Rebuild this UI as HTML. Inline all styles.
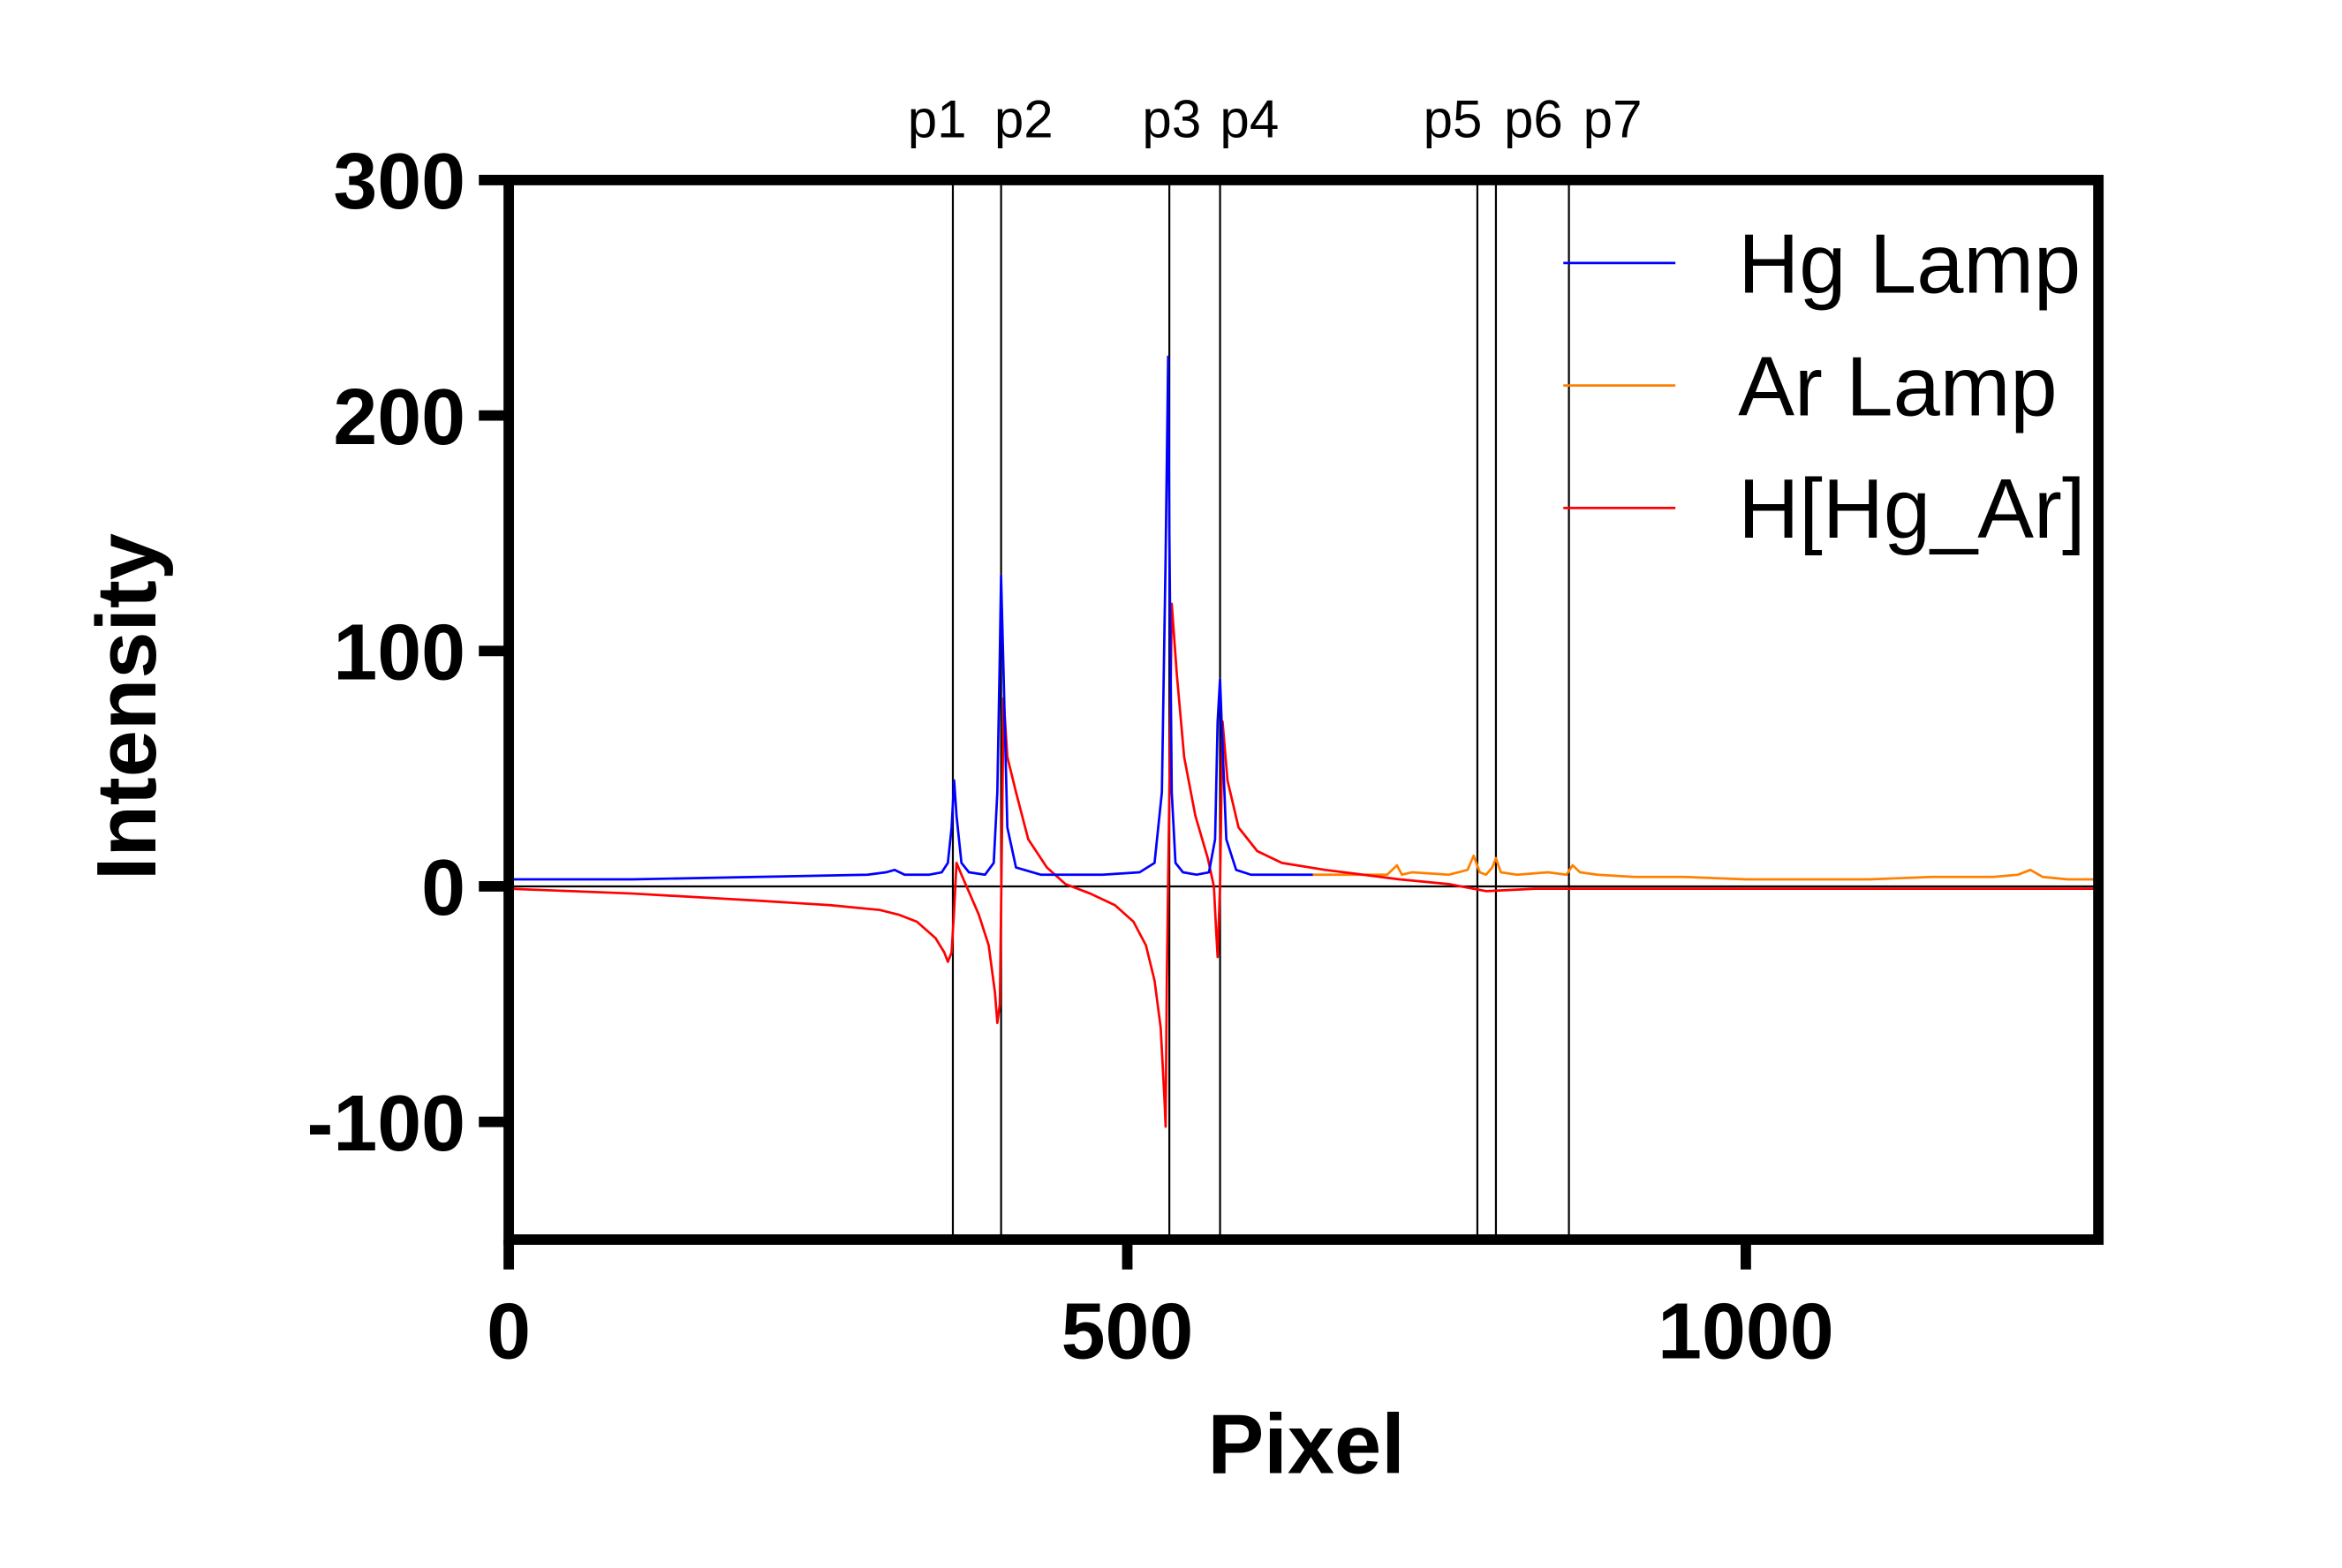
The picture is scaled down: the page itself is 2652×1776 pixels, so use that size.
<!DOCTYPE html>
<html><head><meta charset="utf-8"><style>
html,body{margin:0;padding:0;background:#fff}
svg{display:block}
text{font-family:"Liberation Sans",Arial,sans-serif}
</style></head><body>
<svg id="chart" width="2652" height="1776" viewBox="0 0 1567 1049.4" preserveAspectRatio="none" xmlns="http://www.w3.org/2000/svg">
<g id="marks"></g>
</svg>
<script>
const xTicks=[0,500,1000];
const yTicks=[300,200,100,0,-100];
const peakNames=["p1","p2","p3","p4","p5","p6","p7"];
const peakPixels=[359,398,534,575,783,798,857];
const hgX=[0,100,200,290,305,312,320,340,350,355,358,360,362,366,372,385,392,395,397,398,400,403,410,430,480,510,522,528,531,533,534,536,539,545,556,566,571,573,575,577,580,588,600,650];
const hgY=[3,3,4,5,6,7,5,5,6,10,25,45,30,10,6,5,10,40,100,132,90,25,8,5,5,6,10,40,140,225,150,40,10,6,5,6,20,70,88,60,20,7,5,5];
const arX=[650,680,710,718,722,730,760,775,780,785,790,795,798,802,815,840,855,860,866,880,910,950,1000,1050,1100,1150,1200,1220,1230,1240,1260,1285];
const arY=[5,5,5,9,5,6,5,7,13,6,5,8,12,6,5,6,5,9,6,5,4,4,3,3,3,4,4,5,7,4,3,3];
const hX=[0,100,200,260,300,315,330,345,352,355,358,360,362,366,370,380,388,393,395,397,398,400,403,410,420,435,450,470,490,505,515,522,527,530,531,532,534,536,540,546,555,565,570,572,573,575,577,581,590,605,625,660,720,760,790,830,900,1000,1100,1200,1285];
const hY=[-1,-3,-6,-8,-10,-12,-15,-22,-28,-32,-28,-10,10,5,0,-12,-25,-45,-58,-50,-10,80,55,40,20,8,1,-3,-8,-15,-25,-40,-60,-90,-102,-40,40,120,90,55,30,12,0,-20,-30,0,70,45,25,15,10,7,3,1,-2,-1,-1,-1,-1,-1,-1];
const X0=340.4,X1=1404,Y0=829.6,Y1=120.5;
const sx=v=>X0+(v-0)*(X1-X0)/1285;
const sy=v=>Y0-(v+150)*(Y0-Y1)/450;
const NS="http://www.w3.org/2000/svg";
const g=document.getElementById('marks');
function mk(tag,attrs,parent){const e=document.createElementNS(NS,tag);for(const k in attrs)e.setAttribute(k,attrs[k]);(parent||g).appendChild(e);return e;}
let e=mk('line',{x1:X0,x2:X1,y1:sy(0),y2:sy(0),stroke:'#000','stroke-width':1.3});


peakPixels.forEach((p,i)=>{
 const l=mk('line',{x1:sx(p),x2:sx(p),y1:Y1,y2:Y0,stroke:'#000','stroke-width':1.3});
 
 
});
const labX=[627,685,784,836,972,1026,1079];
peakNames.forEach((n,i)=>{
 const t=mk('text',{x:labX[i],y:92,'font-size':35.5,'text-anchor':'middle'});t.textContent=n;
 
 
});
function series(xs,ys,color,name){
 const pts=xs.map((x,i)=>sx(x).toFixed(1)+','+sy(ys[i]).toFixed(1)).join(' ');
 const p=mk('polyline',{points:pts,fill:'none',stroke:color,'stroke-width':1.6,'stroke-linejoin':'round'});
 
 
}
series(arX,arY,'#ff8000','ar-lamp-series');
series(hX,hY,'#ff0000','h-hg-ar-series');
series(hgX,hgY,'#0000ff','hg-lamp-series');
e=mk('rect',{x:X0,y:Y1,width:X1-X0,height:Y0-Y1,fill:'none',stroke:'#000','stroke-width':7});


yTicks.forEach(v=>{
 const l=mk('line',{x1:X0-20,x2:X0,y1:sy(v),y2:sy(v),stroke:'#000','stroke-width':7});
 
 
 const t=mk('text',{x:X0-29,y:sy(v)+19,'font-size':53,'font-weight':'bold','text-anchor':'end'});t.textContent=v;
 
 
});
xTicks.forEach(v=>{
 const l=mk('line',{x1:sx(v),x2:sx(v),y1:Y0,y2:Y0+20,stroke:'#000','stroke-width':7});
 
 
 const t=mk('text',{x:sx(v),y:909,'font-size':53,'font-weight':'bold','text-anchor':'middle'});t.textContent=v;
 
 
});
e=mk('text',{x:874,y:986,'font-size':56.5,'font-weight':'bold','text-anchor':'middle'});e.textContent='Pixel';


e=mk('text',{x:0,y:0,'font-size':56.5,'font-weight':'bold','text-anchor':'middle',transform:'translate(104,473) rotate(-90)'});e.textContent='Intensity';


const legNames=['Hg Lamp','Ar Lamp','H[Hg_Ar]'];
const legColors=['#0000ff','#ff8000','#ff0000'];
legNames.forEach((n,i)=>{
 const y=176+i*82;
 const l=mk('line',{x1:1046,x2:1121,y1:y,y2:y,stroke:legColors[i],'stroke-width':1.6});
 
 
 const t=mk('text',{x:1163,y:y+20,'font-size':56.5});t.textContent=n;
 
 
});
</script>
</body></html>
